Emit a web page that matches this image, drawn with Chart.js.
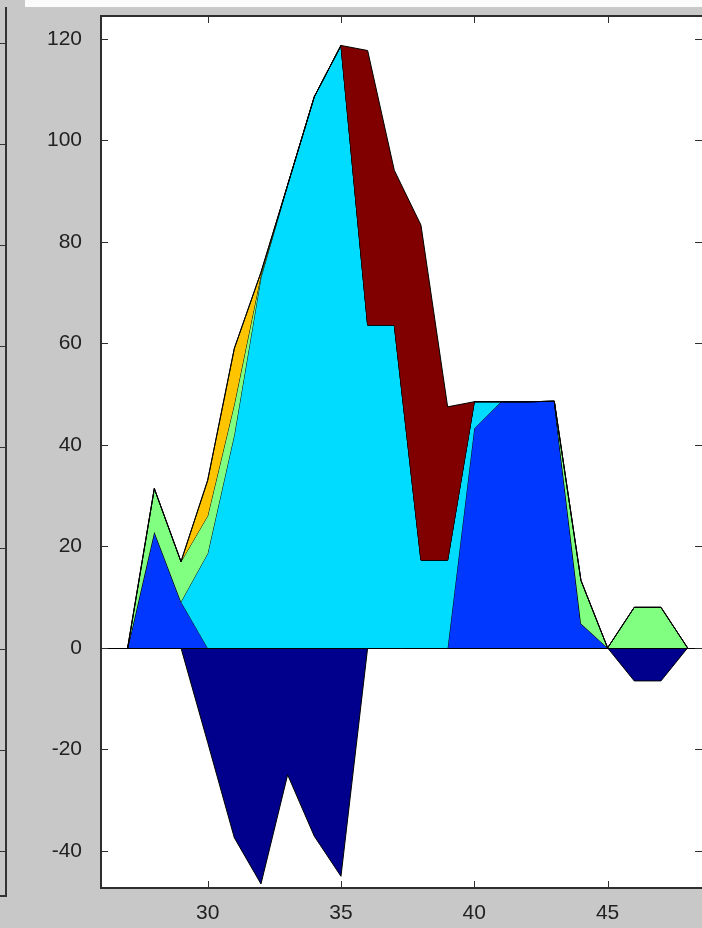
<!DOCTYPE html>
<html>
<head>
<meta charset="utf-8">
<script src="https://cdn.jsdelivr.net/npm/chart.js@4/dist/chart.umd.min.js"></script>
<style>
    html, body { margin: 0; padding: 0; background: #c8c8c8; overflow: hidden; }
    #wrap { position: absolute; left: 0; top: 0; width: 702px; height: 928px; }
    #topstrip { position: absolute; left: 25px; top: 0; width: 677px; height: 7px; background: #fbfbfb; }
    /* edge of the neighbouring figure on the left */
    #sideframe { position: absolute; left: -20px; top: 7px; width: 25px; height: 888px;
                 border-right: 2px solid #333; border-bottom: 2px solid #333; }
    .stick { position: absolute; left: 0; width: 6px; height: 1px; background: #333; }
</style>
</head>
<body>
<div id="topstrip"></div>
<div id="sideframe"></div>
<div id="wrap"><canvas id="chartarea"></canvas></div>
<script>
// x positions
var xVals = [27, 28, 29, 30, 31, 32, 33, 34, 35, 36, 37, 38, 39, 40, 41, 42, 43, 44, 45, 46, 47, 48];

// series values
var navyVals   = [0, 0, 0, -18.6, -37.4, -46.5, -25, -37.1, -45, 0, 0, 0, 0, 0, 0, 0, 0, 0, 0, -6.5, -6.5, 0];
var blueVals   = [0, 22.9, 9.1, 0, 0, 0, 0, 0, 0, 0, 0, 0, 0, 43.3, 48.5, 48.5, 48.6, 4.8, 0, 0, 0, 0];
var cyanVals   = [0, 0, 0, 18.6, 42, 73, 91.2, 108.6, 118.7, 63.6, 63.6, 17.3, 17.3, 5.2, 0, 0, 0, 0, 0, 0, 0, 0];
var greenVals  = [0, 8.5, 7.9, 7.4, 6, 0.5, 0, 0, 0, 0, 0, 0, 0, 0, 0, 0, 0, 8.5, 0, 8, 8, 0];
var yellowVals = [0, 0, 0, 7, 11, 0.5, 0, 0, 0, 0, 0, 0, 0, 0, 0, 0, 0, 0, 0, 0, 0, 0];
var redVals    = [0, 0, 0, 0, 0, 0, 0, 0, 0, 54.1, 30.5, 66, 30.2, 0, 0, 0, 0, 0, 0, 0, 0, 0];

// axis ticks
var xTicks = [30, 35, 40, 45];
var yTicks = [-40, -20, 0, 20, 40, 60, 80, 100, 120];

// side frame ticks
var frame = document.getElementById('sideframe');
for (var k = 0; k < 9; k++) {
    var t = document.createElement('div');
    t.className = 'stick';
    t.style.left = '19px';
    t.style.top = (36 + k * 101) + 'px';
    frame.appendChild(t);
}

// stacked boundaries: positives pile up from zero, negatives go down separately
var posSeries = [blueVals, cyanVals, greenVals, yellowVals, redVals];
var posColors = ['#0038ff', '#00dcff', '#80ff80', '#ffc400', '#800000'];

var datasets = [];
datasets.push({
    label: 'navy',
    data: xVals.map(function (x, i) { return { x: x, y: navyVals[i] }; }),
    backgroundColor: '#00008c',
    fill: 'origin'
});

var running = xVals.map(function () { return 0; });
for (var s = 0; s < posSeries.length; s++) {
    var pts = [];
    for (var i = 0; i < xVals.length; i++) {
        running[i] += posSeries[s][i];
        pts.push({ x: xVals[i], y: running[i] });
    }
    datasets.push({
        label: 's' + s,
        data: pts,
        backgroundColor: posColors[s],
        fill: s == 0 ? 'origin' : '-1'
    });
}

datasets.forEach(function (d, i) {
    d.borderColor = '#000';
    d.borderWidth = 1;
    d.pointRadius = 0;
    d.tension = 0;
    d.order = -i;
});

var matlabAxes = {
    id: 'matlabAxes',
    beforeDraw: function (chart) {
        var a = chart.chartArea, c = chart.ctx;
        c.save();
        c.fillStyle = '#fff';
        c.fillRect(a.left, a.top, a.right - a.left, a.bottom - a.top);
        c.restore();
    },
    afterDatasetsDraw: function (chart) {
        var a = chart.chartArea, c = chart.ctx;
        var y0 = Math.round(chart.scales.y.getPixelForValue(0)) + 0.5;
        c.save();
        c.strokeStyle = '#000';
        c.lineWidth = 1;
        c.beginPath();
        c.moveTo(a.left, y0);
        c.lineTo(a.right, y0);
        c.stroke();
        c.restore();
    },
    afterDraw: function (chart) {
        var a = chart.chartArea, c = chart.ctx;
        var len = 7;
        c.save();
        c.strokeStyle = '#2e2e2e';
        c.lineWidth = 1;
        c.beginPath();
        yTicks.forEach(function (v) {
            var py = Math.round(chart.scales.y.getPixelForValue(v)) + 0.5;
            c.moveTo(a.left, py); c.lineTo(a.left + len, py);
            c.moveTo(a.right, py); c.lineTo(a.right - len, py);
        });
        xTicks.forEach(function (v) {
            var px = Math.round(chart.scales.x.getPixelForValue(v)) + 0.5;
            c.moveTo(px, a.bottom); c.lineTo(px, a.bottom - len);
            c.moveTo(px, a.top); c.lineTo(px, a.top + len);
        });
        c.stroke();
        // box (right side falls outside the window)
        c.lineWidth = 2;
        c.beginPath();
        c.moveTo(a.right + 2, a.top);
        c.lineTo(a.left, a.top);
        c.lineTo(a.left, a.bottom);
        c.lineTo(a.right + 2, a.bottom);
        c.stroke();
        c.restore();
    }
};

var chartArea = document.getElementById('chartarea').getContext('2d');
var chart = new Chart(chartArea, {
    type: 'line',
    data: { datasets: datasets },
    options: {
        responsive: true,
        maintainAspectRatio: false,
        animation: false,
        layout: { padding: { top: 16, right: 0, left: 0, bottom: 0 } },
        plugins: {
            legend: { display: false },
            tooltip: { enabled: false }
        },
        scales: {
            x: {
                type: 'linear',
                min: 26,
                max: 48.54,
                afterFit: function (scale) {
                    scale.height = 40;
                    scale.paddingLeft = 0;
                    scale.paddingRight = 0;
                },
                afterBuildTicks: function (scale) {
                    scale.ticks = xTicks.map(function (v) { return { value: v }; });
                },
                grid: { display: false },
                border: { display: false },
                ticks: {
                    padding: 5,
                    color: '#222',
                    maxRotation: 0,
                    font: { family: '"Liberation Sans", Arial, sans-serif', size: 21 }
                }
            },
            y: {
                type: 'linear',
                min: -47.3,
                max: 124.5,
                afterFit: function (scale) {
                    scale.width = 101;
                    scale.paddingTop = 0;
                    scale.paddingBottom = 0;
                },
                afterBuildTicks: function (scale) {
                    scale.ticks = yTicks.map(function (v) { return { value: v }; });
                },
                grid: { display: false },
                border: { display: false },
                ticks: {
                    padding: 11,
                    color: '#222',
                    font: { family: '"Liberation Sans", Arial, sans-serif', size: 21 }
                }
            }
        }
    },
    plugins: [matlabAxes]
});
</script>
</body>
</html>
